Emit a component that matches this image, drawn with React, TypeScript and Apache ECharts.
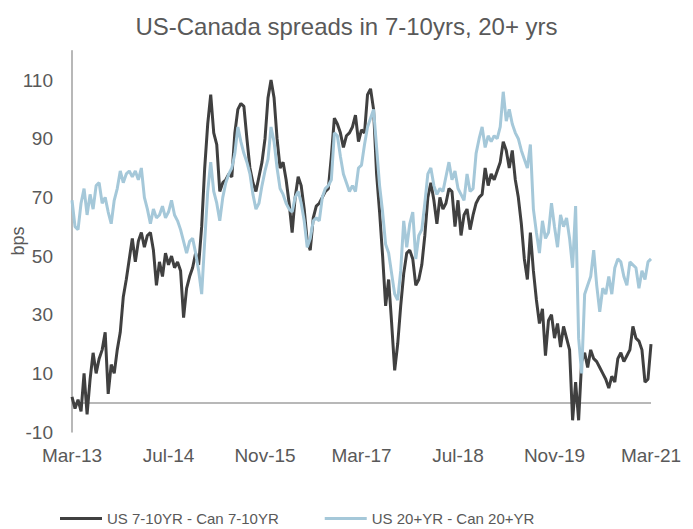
import React, { useEffect, useRef } from "react";
import * as echarts from "echarts";

// Half-month observations starting Mar-2013 (index * 0.5 = months since Mar-13)
const usCan710: number[] = [
  2, -2, 1, -3, 10, -4, 8, 17, 10, 15, 18, 24, 3, 13, 10, 18, 24, 36, 42, 49, 56, 48, 55, 58,
  53, 57, 58, 52, 40, 48, 43, 51, 47, 50, 46, 48, 45, 29, 39, 43, 46, 51, 47, 60, 80, 95, 105, 92,
  88, 72, 75, 76, 78, 77, 92, 100, 102, 101, 90, 80, 75, 72, 77, 82, 90, 104, 110, 104, 90, 80, 82, 76,
  68, 58, 70, 77, 74, 66, 55, 52, 63, 67, 68, 70, 72, 73, 84, 97, 95, 92, 87, 91, 92, 94, 98, 89,
  93, 92, 105, 107, 100, 78, 65, 50, 33, 42, 27, 11, 20, 33, 44, 51, 52, 49, 40, 42, 47, 57, 70, 75,
  69, 61, 70, 66, 68, 73, 72, 60, 69, 57, 64, 66, 59, 64, 68, 70, 71, 80, 74, 78, 76, 79, 82, 89,
  86, 80, 86, 76, 70, 61, 49, 42, 58, 45, 35, 27, 32, 16, 28, 30, 22, 27, 19, 26, 22, 18, -6, 7,
  -6, 14, 17, 12, 18, 15, 14, 12, 10, 8, 5, 9, 7, 15, 17, 14, 16, 18, 26, 22, 21, 18, 7, 8,
  20,
];

const usCan20: number[] = [
  69, 60, 59, 68, 73, 64, 71, 66, 74, 75, 68, 70, 65, 61, 69, 73, 79, 75, 78, 79, 77, 79, 76, 80,
  70, 66, 61, 66, 63, 64, 67, 63, 65, 69, 64, 62, 59, 55, 51, 55, 56, 51, 45, 37, 55, 72, 82, 72,
  68, 62, 70, 75, 78, 80, 85, 94, 89, 85, 82, 78, 71, 66, 68, 74, 79, 83, 94, 89, 80, 73, 71, 68,
  66, 65, 70, 72, 68, 62, 53, 56, 62, 63, 62, 70, 73, 74, 76, 92, 91, 84, 78, 75, 72, 74, 72, 80,
  81, 88, 94, 97, 100, 87, 74, 65, 54, 51, 44, 37, 35, 45, 62, 53, 61, 65, 49, 57, 59, 68, 78, 80,
  74, 71, 73, 72, 77, 82, 76, 79, 73, 71, 69, 78, 72, 73, 85, 90, 94, 87, 91, 89, 91, 90, 94, 106,
  96, 100, 95, 92, 90, 86, 83, 80, 88, 66, 58, 51, 62, 56, 58, 68, 60, 53, 64, 60, 63, 56, 46, 67,
  22, 10, 37, 40, 43, 52, 40, 31, 39, 37, 43, 37, 46, 49, 48, 43, 40, 48, 47, 46, 39, 45, 42, 48,
  49,
];

const xTickLabels: string[] = ["Mar-13", "Jul-14", "Nov-15", "Mar-17", "Jul-18", "Nov-19", "Mar-21"];
const seriesNames: string[] = ["US 7-10YR - Can 7-10YR", "US 20+YR - Can 20+YR"];
const titleText = "US-Canada spreads in 7-10yrs, 20+ yrs";
const yAxisTitle = "bps";

const DARK = "#404040";
const LIGHT = "#A5C8D9";
const TEXT = "#595959";
const AXIS = "#A0A0A0";
const FONT = "Liberation Sans, Arial, sans-serif";

export default function App() {
  const ref = useRef<HTMLDivElement>(null);

  useEffect(() => {
    if (!ref.current) return;
    const chart = echarts.init(ref.current, undefined, { renderer: "svg" });
    const toPairs = (arr: number[]) => arr.map((v, i) => [i * 0.5, v]);

    chart.setOption({
      animation: false,
      backgroundColor: "#ffffff",
      title: {
        text: titleText,
        left: "center",
        top: 9,
        textStyle: { fontFamily: FONT, fontSize: 24, fontWeight: "normal", color: TEXT },
      },
      legend: {
        left: 55,
        top: 506,
        icon: "rect",
        itemWidth: 42,
        itemHeight: 3,
        itemGap: 46,
        data: seriesNames,
        textStyle: { fontFamily: FONT, fontSize: 15, color: TEXT },
      },
      graphic: [
        {
          type: "text",
          x: 18,
          y: 241,
          rotation: Math.PI / 2,
          style: {
            text: yAxisTitle,
            fontFamily: FONT,
            fontSize: 18,
            fill: TEXT,
            align: "center",
            verticalAlign: "middle",
          },
        },
      ],
      grid: {
        left: 72,
        right: 42,
        top: 50.7,
        bottom: 97,
        containLabel: false,
        outerBoundsMode: "none",
      },
      xAxis: {
        type: "value",
        min: 0,
        max: 96,
        interval: 16,
        axisLine: { show: false },
        axisTick: { show: false },
        splitLine: { show: false },
        axisLabel: {
          margin: 14,
          fontFamily: FONT,
          fontSize: 19,
          color: TEXT,
          formatter: (v: number) => xTickLabels[Math.round(v / 16)] ?? "",
        },
      },
      yAxis: {
        type: "value",
        min: -10,
        max: 120,
        interval: 20,
        axisLine: { show: true, onZero: false, lineStyle: { color: AXIS, width: 1.5 } },
        axisTick: { show: false },
        splitLine: { show: false },
        axisLabel: {
          margin: 19,
          fontFamily: FONT,
          fontSize: 19,
          color: TEXT,
          showMaxLabel: false,
          formatter: (v: number) => (v > 110 ? "" : String(v)),
        },
      },
      series: [
        {
          name: seriesNames[0],
          type: "line",
          data: toPairs(usCan710),
          symbol: "none",
          lineStyle: { color: DARK, width: 3 },
          itemStyle: { color: DARK },
          z: 2,
          markLine: {
            silent: true,
            symbol: "none",
            label: { show: false },
            lineStyle: { color: AXIS, width: 1.5, type: "solid" },
            data: [{ yAxis: 0 }],
            z: 1,
          },
        },
        {
          name: seriesNames[1],
          type: "line",
          data: toPairs(usCan20),
          symbol: "none",
          lineStyle: { color: LIGHT, width: 3 },
          itemStyle: { color: LIGHT },
          z: 3,
        },
      ],
    });

    return () => chart.dispose();
  }, []);

  return (
    <div
      ref={ref}
      style={{ position: "fixed", left: 0, top: 0, width: 693, height: 529, background: "#fff" }}
    />
  );
}
